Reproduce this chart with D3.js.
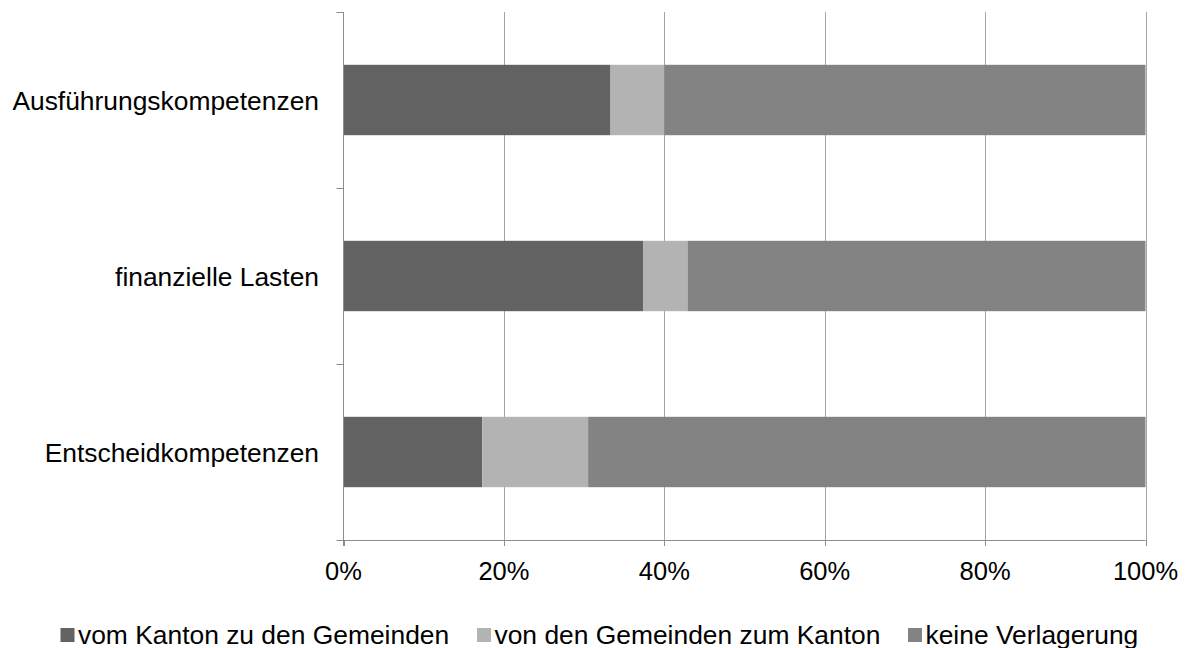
<!DOCTYPE html>
<html><head><meta charset="utf-8">
<script src="https://cdn.jsdelivr.net/npm/d3@7"></script>
<style>
body{margin:0;background:#fff;}
text{font-family:"Liberation Sans",Arial,sans-serif;fill:#000;}
</style></head>
<body>
<svg id="c" width="1185" height="648"></svg>
<script>
const categories = ["Ausführungskompetenzen", "finanzielle Lasten", "Entscheidkompetenzen"];
const seriesNames = ["vom Kanton zu den Gemeinden", "von den Gemeinden zum Kanton", "keine Verlagerung"];
const kantonZuGemeinden = [33.3, 37.4, 17.3];
const gemeindenZuKanton = [6.7, 5.5, 13.2];
const keineVerlagerung = [60.0, 57.1, 69.5];
const xTicks = [0, 20, 40, 60, 80, 100];
const colors = ["#636363", "#b3b3b3", "#838383"];

(function () {
const series = [kantonZuGemeinden, gemeindenZuKanton, keineVerlagerung];
const svg = d3.select("#c");
const pLeft = 343.5, pRight = 1145.5, pTop = 12, pBottom = 540;

const x = d3.scaleLinear().domain([0, 100]).range([pLeft, pRight]);
const y = d3.scaleBand().domain(categories).range([pTop, pBottom]).paddingInner(0.6).paddingOuter(0.3);
const yEdges = d3.scaleLinear().domain([0, categories.length]).range([pTop, pBottom]);

// gridlines
svg.append("g").selectAll("line").data(xTicks.slice(1)).join("line")
  .attr("x1", d => Math.round(x(d)) + 0.5).attr("x2", d => Math.round(x(d)) + 0.5)
  .attr("y1", pTop).attr("y2", pBottom)
  .attr("stroke", "#a6a6a6").attr("stroke-width", 1);

// bars
const stacked = categories.map((c, i) => {
  let acc = 0;
  return series.map((s, k) => { const r = {c, k, x0: acc, x1: acc + s[i]}; acc += s[i]; return r; });
}).flat();
svg.append("g").selectAll("rect").data(stacked).join("rect")
  .attr("x", d => x(d.x0)).attr("width", d => x(d.x1) - x(d.x0))
  .attr("y", d => y(d.c)).attr("height", y.bandwidth())
  .attr("fill", d => colors[d.k]);

// axes
const axisColor = "#8c8c8c";
const g = svg.append("g");
g.append("line").attr("x1", pLeft).attr("x2", pLeft).attr("y1", pTop).attr("y2", pBottom + 6)
  .attr("stroke", axisColor);
g.append("line").attr("x1", pLeft - 7).attr("x2", pRight).attr("y1", pBottom + 0.5).attr("y2", pBottom + 0.5)
  .attr("stroke", axisColor);
g.selectAll(".yt").data(d3.range(categories.length)).join("line")
  .attr("x1", pLeft - 7).attr("x2", pLeft)
  .attr("y1", d => Math.round(yEdges(d)) + 0.5).attr("y2", d => Math.round(yEdges(d)) + 0.5)
  .attr("stroke", axisColor);
g.selectAll(".xt").data(xTicks).join("line")
  .attr("x1", d => Math.round(x(d)) + 0.5).attr("x2", d => Math.round(x(d)) + 0.5)
  .attr("y1", pBottom).attr("y2", pBottom + 6).attr("stroke", axisColor);

// tick labels
svg.append("g").selectAll("text").data(xTicks).join("text")
  .attr("x", d => x(d)).attr("y", 579.5).attr("text-anchor", "middle")
  .style("font-size", "25.5px").text(d => d + "%");

svg.append("g").selectAll("text").data(categories).join("text")
  .attr("x", 319).attr("y", d => y(d) + y.bandwidth() / 2 + 9.5).attr("text-anchor", "end")
  .style("font-size", "26.4px").text(d => d);

// legend
const legendX = [60.5, 477, 908];
const lg = svg.append("g").selectAll("g").data(seriesNames).join("g")
  .attr("transform", (d, i) => `translate(${legendX[i]},0)`);
lg.append("rect").attr("x", 0).attr("y", 628).attr("width", 14).attr("height", 14)
  .attr("fill", (d, i) => colors[i]);
lg.append("text").attr("x", 17.5).attr("y", 643.5).style("font-size", "26.4px").text(d => d);
})();
</script>
</body></html>
